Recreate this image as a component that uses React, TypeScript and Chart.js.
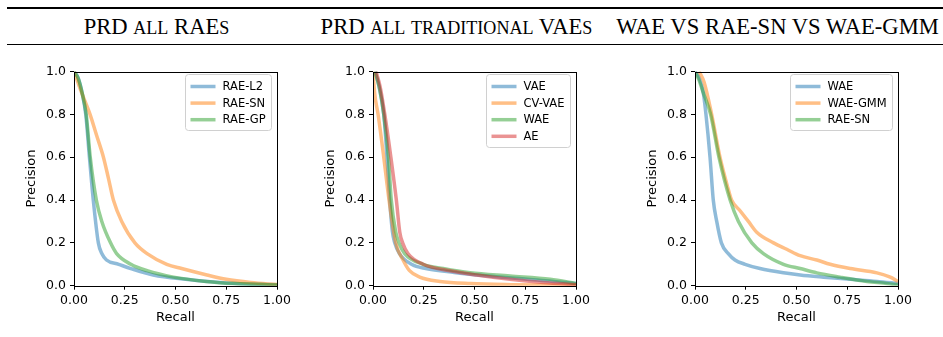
import React, { useEffect, useRef } from "react";
import { Chart, registerables } from "chart.js";

Chart.register(...registerables);

// ---------- Titles ----------
const titles = ["PRD all RAEs", "PRD all traditional VAEs", "WAE VS RAE-SN VS WAE-GMM"];

// ---------- Axis ticks ----------
const recallTicks = [0, 0.25, 0.5, 0.75, 1.0];
const precisionTicks = [0, 0.2, 0.4, 0.6, 0.8, 1.0];

// ---------- Panel 1: all RAEs ----------
const raeL2Recall = [0, 0.02, 0.04, 0.058, 0.076, 0.095, 0.12, 0.137, 0.16, 0.22, 0.28, 0.39, 0.55, 0.75, 1.0];
const raeL2Precision = [1.0, 0.97, 0.9, 0.8, 0.6, 0.4, 0.2, 0.15, 0.12, 0.1, 0.08, 0.05, 0.03, 0.013, 0.005];
const raeSnRecall = [0, 0.019, 0.038, 0.079, 0.112, 0.145, 0.17, 0.194, 0.235, 0.3, 0.36, 0.457, 0.53, 0.655, 0.75, 0.87, 1.0];
const raeSnPrecision = [1.0, 0.95, 0.9, 0.8, 0.7, 0.6, 0.5, 0.4, 0.3, 0.2, 0.15, 0.1, 0.08, 0.05, 0.03, 0.015, 0.005];
const raeGpRecall = [0, 0.02, 0.04, 0.06, 0.08, 0.11, 0.137, 0.18, 0.21, 0.28, 0.36, 0.49, 0.65, 0.79, 1.0];
const raeGpPrecision = [1.0, 0.97, 0.9, 0.8, 0.6, 0.4, 0.3, 0.2, 0.15, 0.1, 0.07, 0.04, 0.02, 0.01, 0.003];

// ---------- Panel 2: traditional VAEs ----------
const vaeRecall = [0.01, 0.03, 0.053, 0.069, 0.082, 0.096, 0.107, 0.13, 0.19, 0.26, 0.4, 0.54, 0.76, 0.95, 1.0];
const vaePrecision = [1.0, 0.93, 0.8, 0.6, 0.4, 0.25, 0.2, 0.15, 0.1, 0.08, 0.062, 0.048, 0.03, 0.015, 0.01];
const cvVaeRecall = [0, 0.008, 0.025, 0.053, 0.079, 0.112, 0.148, 0.18, 0.23, 0.33, 0.48, 0.68, 1.0];
const cvVaePrecision = [1.0, 0.9, 0.8, 0.6, 0.4, 0.2, 0.12, 0.07, 0.04, 0.02, 0.01, 0.005, 0.002];
const waeTradRecall = [0.01, 0.03, 0.053, 0.076, 0.09, 0.112, 0.128, 0.156, 0.247, 0.346, 0.478, 0.675, 0.873, 1.0];
const waeTradPrecision = [1.0, 0.93, 0.8, 0.6, 0.4, 0.25, 0.2, 0.15, 0.1, 0.08, 0.06, 0.045, 0.03, 0.01];
const aeRecall = [0.015, 0.035, 0.058, 0.088, 0.115, 0.132, 0.146, 0.172, 0.247, 0.379, 0.51, 0.675, 0.84, 1.0];
const aePrecision = [1.0, 0.93, 0.8, 0.6, 0.4, 0.25, 0.2, 0.15, 0.1, 0.07, 0.05, 0.03, 0.015, 0.005];

// ---------- Panel 3: WAE vs RAE-SN vs WAE-GMM ----------
const waeRecall = [0, 0.02, 0.041, 0.054, 0.074, 0.09, 0.107, 0.13, 0.164, 0.197, 0.247, 0.32, 0.436, 0.518, 0.633, 0.765, 0.896, 1.0];
const waePrecision = [1.0, 0.97, 0.9, 0.8, 0.6, 0.4, 0.3, 0.2, 0.15, 0.12, 0.1, 0.08, 0.06, 0.05, 0.04, 0.03, 0.02, 0.01];
const waeGmmRecall = [0.02, 0.045, 0.082, 0.123, 0.164, 0.18, 0.222, 0.263, 0.304, 0.387, 0.452, 0.518, 0.6, 0.666, 0.765, 0.896, 0.962, 1.0];
const waeGmmPrecision = [1.0, 0.95, 0.8, 0.6, 0.45, 0.4, 0.35, 0.3, 0.25, 0.2, 0.17, 0.14, 0.12, 0.1, 0.08, 0.06, 0.04, 0.02];
const raeSn3Recall = [0, 0.02, 0.041, 0.077, 0.118, 0.173, 0.214, 0.28, 0.337, 0.436, 0.518, 0.6, 0.715, 0.847, 0.946, 1.0];
const raeSn3Precision = [1.0, 0.96, 0.9, 0.8, 0.6, 0.4, 0.3, 0.2, 0.15, 0.1, 0.08, 0.06, 0.04, 0.02, 0.01, 0.003];

const BLUE = "rgba(31,119,180,0.5)";
const ORANGE = "rgba(255,127,14,0.5)";
const GREEN = "rgba(44,160,44,0.5)";
const RED = "rgba(214,39,40,0.5)";

type Series = { label: string; recall: number[]; precision: number[]; color: string };

const panels: { left: number; series: Series[] }[] = [
  {
    left: 0,
    series: [
      { label: "RAE-L2", recall: raeL2Recall, precision: raeL2Precision, color: BLUE },
      { label: "RAE-SN", recall: raeSnRecall, precision: raeSnPrecision, color: ORANGE },
      { label: "RAE-GP", recall: raeGpRecall, precision: raeGpPrecision, color: GREEN },
    ],
  },
  {
    left: 299,
    series: [
      { label: "VAE", recall: vaeRecall, precision: vaePrecision, color: BLUE },
      { label: "CV-VAE", recall: cvVaeRecall, precision: cvVaePrecision, color: ORANGE },
      { label: "WAE", recall: waeTradRecall, precision: waeTradPrecision, color: GREEN },
      { label: "AE", recall: aeRecall, precision: aePrecision, color: RED },
    ],
  },
  {
    left: 621,
    series: [
      { label: "WAE", recall: waeRecall, precision: waePrecision, color: BLUE },
      { label: "WAE-GMM", recall: waeGmmRecall, precision: waeGmmPrecision, color: ORANGE },
      { label: "RAE-SN", recall: raeSn3Recall, precision: raeSn3Precision, color: GREEN },
    ],
  },
];

const titleCenters = [156.5, 456.5, 777.5];

const FONT = "'DejaVu Sans', sans-serif";
const LINE_W = 3.5;

const framePlugin = {
  id: "frameAndLegend",
  afterDraw(chart: any) {
    const { ctx, chartArea: ca } = chart;
    ctx.save();
    ctx.strokeStyle = "#000";
    ctx.lineWidth = 1;
    const l = Math.round(ca.left) + 0.5;
    const r = Math.round(ca.right) + 0.5;
    const t = Math.round(ca.top) + 0.5;
    const b = Math.round(ca.bottom) + 0.5;
    ctx.strokeRect(l, t, r - l, b - t);

    const ds = chart.data.datasets;
    ctx.font = `11.5px ${FONT}`;
    let tw = 0;
    ds.forEach((d: any) => (tw = Math.max(tw, ctx.measureText(d.label).width)));
    const padL = 5, handle = 25, gap = 7, padR = 6;
    const rowH = 16.6;
    const boxW = padL + handle + gap + tw + padR;
    const boxH = 12 + (ds.length - 1) * rowH + 11;
    const bx = Math.round(ca.right - 6 - boxW) + 0.5;
    const by = Math.round(ca.top + 2) + 0.5;
    ctx.beginPath();
    if ((ctx as any).roundRect) (ctx as any).roundRect(bx, by, Math.round(boxW), Math.round(boxH), 3);
    else ctx.rect(bx, by, Math.round(boxW), Math.round(boxH));
    ctx.fillStyle = "rgba(255,255,255,0.8)";
    ctx.fill();
    ctx.strokeStyle = "#d0d0d0";
    ctx.lineWidth = 1;
    ctx.stroke();
    ds.forEach((d: any, i: number) => {
      const y = by + 12 + i * rowH;
      ctx.beginPath();
      ctx.moveTo(bx + padL, y);
      ctx.lineTo(bx + padL + handle, y);
      ctx.strokeStyle = d.borderColor;
      ctx.lineWidth = LINE_W;
      ctx.lineCap = "butt";
      ctx.stroke();
      ctx.fillStyle = "#000";
      ctx.textBaseline = "middle";
      ctx.textAlign = "left";
      ctx.fillText(d.label, bx + padL + handle + gap, y + 0.5);
    });
    ctx.restore();
  },
};

function Panel({ left, series }: { left: number; series: Series[] }) {
  const ref = useRef<HTMLCanvasElement>(null);
  useEffect(() => {
    if (!ref.current) return;
    const n = series.length;
    const chart = new Chart(ref.current, {
      type: "line",
      data: {
        datasets: series.map((s, i) => ({
          label: s.label,
          data: s.recall.map((x, k) => ({ x, y: s.precision[k] })),
          borderColor: s.color,
          backgroundColor: s.color,
          borderWidth: LINE_W,
          pointRadius: 0,
          fill: false,
          cubicInterpolationMode: "monotone" as const,
          order: n - 1 - i,
        })),
      },
      options: {
        animation: false,
        responsive: false,
        devicePixelRatio: 1,
        layout: { padding: { top: 9.3, right: 23, bottom: 0, left: 0 } },
        plugins: { legend: { display: false }, tooltip: { enabled: false } },
        scales: {
          x: {
            type: "linear",
            min: 0,
            max: 1,
            afterBuildTicks: (s: any) => {
              s.ticks = recallTicks.map((v) => ({ value: v }));
            },
            ticks: {
              callback: (v: any) => Number(v).toFixed(2),
              font: { family: FONT, size: 12.5 },
              color: "#000",
              padding: 4,
              maxRotation: 0,
              autoSkip: false,
            },
            grid: { drawOnChartArea: false, drawTicks: true, tickLength: 4, color: "#000", lineWidth: 1 },
            border: { display: false },
            title: {
              display: true,
              text: "Recall",
              font: { family: FONT, size: 13 },
              color: "#000",
              padding: { top: 0, bottom: 12 },
            },
            afterFit: (s: any) => {
              s.height = 51.3;
            },
          },
          y: {
            type: "linear",
            min: 0,
            max: 1,
            afterBuildTicks: (s: any) => {
              s.ticks = precisionTicks.map((v) => ({ value: v }));
            },
            ticks: {
              callback: (v: any) => Number(v).toFixed(1),
              font: { family: FONT, size: 12.5 },
              color: "#000",
              padding: 4,
              autoSkip: false,
            },
            grid: { drawOnChartArea: false, drawTicks: true, tickLength: 4, color: "#000", lineWidth: 1 },
            border: { display: false },
            title: {
              display: true,
              text: "Precision",
              font: { family: FONT, size: 13 },
              color: "#000",
              padding: { top: 24.2, bottom: 0 },
            },
            afterFit: (s: any) => {
              s.width = 74;
            },
          },
        },
      },
      plugins: [framePlugin],
    } as any);
    return () => chart.destroy();
  }, [series]);
  return (
    <canvas
      ref={ref}
      width={300}
      height={277}
      style={{ position: "absolute", left, top: 60, width: 300, height: 277 }}
    />
  );
}

function SmallCapsTitle({ text }: { text: string }) {
  const parts = text.split(/([a-z]+)/).filter((p) => p.length > 0);
  return (
    <>
      {parts.map((p, i) =>
        /^[a-z]+$/.test(p) ? (
          <span key={i} style={{ fontSize: "0.8em" }}>
            {p.toUpperCase()}
          </span>
        ) : (
          <span key={i}>{p}</span>
        )
      )}
    </>
  );
}

export default function App() {
  return (
    <div
      style={{
        position: "absolute",
        left: 0,
        top: 0,
        width: 943,
        height: 337,
        background: "#fff",
        overflow: "hidden",
      }}
    >
      <div style={{ position: "absolute", left: 7, right: 0, top: 6.5, height: 2, background: "#000" }} />
      <div style={{ position: "absolute", left: 7, right: 0, top: 43.5, height: 1.5, background: "#000" }} />
      {titles.map((t, i) => (
        <div
          key={i}
          style={{
            position: "absolute",
            left: titleCenters[i] - 200,
            width: 400,
            top: 15.5,
            lineHeight: "22px",
            fontSize: 22.6,
            fontFamily: "'Liberation Serif', 'Times New Roman', serif",
            textAlign: "center",
            whiteSpace: "nowrap",
            color: "#000",
          }}
        >
          <SmallCapsTitle text={t} />
        </div>
      ))}
      {panels.map((p, i) => (
        <Panel key={i} left={p.left} series={p.series} />
      ))}
    </div>
  );
}
